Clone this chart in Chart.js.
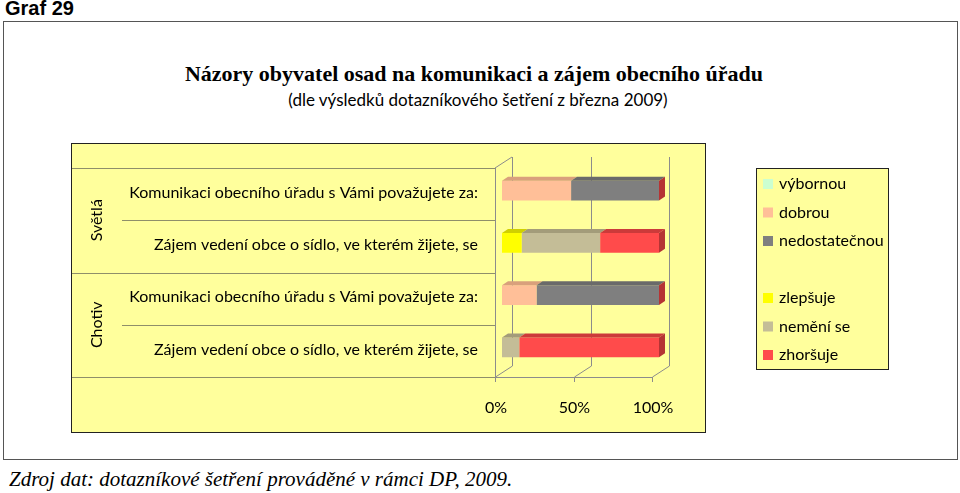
<!DOCTYPE html>
<html>
<head>
<meta charset="utf-8">
<script src="https://cdn.jsdelivr.net/npm/chart.js@4/dist/chart.umd.min.js"></script>
<style>
  body { margin: 0; background: #fff; }
  #wrap { position: relative; width: 960px; height: 493px; overflow: hidden; }
  #graf { position: absolute; left: 5px; top: -3px; font: bold 20px "Liberation Sans", Arial, sans-serif; }
  #frame { position: absolute; left: 3px; top: 21px; width: 953px; height: 437px; border: 1px solid #555; }
  #plot { position: absolute; left: 71px; top: 143px; width: 633px; height: 288px; background: #ffff9c; border: 1px solid #222; }
  #title { position: absolute; left: 0; width: 948px; top: 61px; text-align: center; font: bold 22px "Liberation Serif", serif; }
  #sub { position: absolute; left: 0; width: 956px; top: 89px; text-align: center; font: 17px Lato, sans-serif; }
  #src { position: absolute; left: 9px; top: 467px; font: italic 21px "Liberation Serif", serif; }
  #box { position: absolute; left: 0; top: 0; width: 960px; height: 493px; }
</style>
</head>
<body>
<div id="wrap">
  <div id="graf">Graf 29</div>
  <div id="frame"></div>
  <div id="plot"></div>
  <div id="title">Názory obyvatel osad na komunikaci a zájem obecního úřadu</div>
  <div id="sub">(dle výsledků dotazníkového šetření z března 2009)</div>
  <div id="src">Zdroj dat: dotazníkové šetření prováděné v rámci DP, 2009.</div>
  <div id="box"><canvas id="graf29"></canvas></div>
</div>
<script>
// data (percent of respondents)
const categories = [
  'Komunikaci obecního úřadu s Vámi považujete za:',
  'Zájem vedení obce o sídlo, ve kterém žijete, se',
  'Komunikaci obecního úřadu s Vámi považujete za:',
  'Zájem vedení obce o sídlo, ve kterém žijete, se'
];
const groups = ['Světlá', 'Chotiv'];
const seriesNames = ['výbornou', 'dobrou', 'nedostatečnou', 'zlepšuje', 'nemění se', 'zhoršuje'];
const vybornou      = [0, 0, 0, 0];
const dobrou        = [44, 0, 22, 0];
const nedostatecnou = [56, 0, 78, 0];
const zlepsuje      = [0, 12.5, 0, 0];
const nemeni        = [0, 50, 0, 11];
const zhorsuje      = [0, 37.5, 0, 89];
const xTicks = [0, 50, 100];

const colors    = ['#ccffd0', '#ffbf98', '#7f7f7f', '#ffff00', '#c4bd97', '#ff4b4b'];
const topColors = ['#a8d8ac', '#d9a07c', '#6a6a6a', '#d0d000', '#a39c7a', '#cc3a3a'];
const values = [vybornou, dobrou, nedostatecnou, zlepsuje, nemeni, zhorsuje];

const FONT = 'Lato, sans-serif';
const bar3d = { x: 6, y: -4 };      // depth of a bar
const shift = { x: -7, y: 3.5 };    // from bar plane to front of the box
const wall = { x: 17, y: -11 };     // full depth of the box

const threeD = {
  id: 'threeD',
  beforeDatasetsDraw(chart) {
    const c = chart.ctx, xs = chart.scales.x, a = chart.chartArea;
    const top = a.top + shift.y, bottom = a.bottom + shift.y;
    const xf = v => xs.getPixelForValue(v) + shift.x;
    c.save();
    c.lineWidth = 1;
    c.strokeStyle = '#8c8c8c';
    c.beginPath();
    // left wall
    c.moveTo(xf(0) + 0.5, top); c.lineTo(xf(0) + 0.5, bottom);
    c.moveTo(xf(0), top); c.lineTo(xf(0) + wall.x, top + wall.y);
    // floor front
    c.moveTo(xf(0), bottom + 0.5); c.lineTo(xf(100), bottom + 0.5);
    xTicks.forEach(v => {
      const px = Math.round(xf(v)) + 0.5;
      c.moveTo(px + wall.x, top + wall.y); c.lineTo(px + wall.x, bottom + wall.y);
      c.moveTo(px, bottom); c.lineTo(px + wall.x, bottom + wall.y);
      c.moveTo(px, bottom); c.lineTo(px, bottom + 5);
    });
    c.stroke();
    // category separators and group labels
    const band = (a.bottom - a.top) / categories.length;
    c.strokeStyle = '#8f8f6a';
    c.beginPath();
    for (let i = 0; i <= categories.length; i++) {
      const y = Math.round(top + i * band) + 0.5;
      c.moveTo(i % 2 === 0 ? 72 : 122, y);
      c.lineTo(xf(0), y);
    }
    c.stroke();
    c.fillStyle = '#000';
    c.font = '16px ' + FONT;
    c.textAlign = 'center';
    c.textBaseline = 'middle';
    groups.forEach((g, i) => {
      const cy = top + (i * 2 + 1) * band;
      c.save();
      c.translate(97, cy);
      c.rotate(-Math.PI / 2);
      c.fillText(g, 0, 0);
      c.restore();
    });
    c.restore();
  },
  afterDatasetsDraw(chart) {
    const c = chart.ctx;
    c.save();
    const ends = [];
    chart.data.datasets.forEach((ds, di) => {
      chart.getDatasetMeta(di).data.forEach((el, i) => {
        const t = el.y - el.height / 2;
        if (el.x - el.base > 0.5) {
          c.fillStyle = topColors[di];
          c.beginPath();
          c.moveTo(el.base, t); c.lineTo(el.x, t);
          c.lineTo(el.x + bar3d.x, t + bar3d.y); c.lineTo(el.base + bar3d.x, t + bar3d.y);
          c.closePath(); c.fill();
        }
        if (!ends[i] || el.x >= ends[i].x) ends[i] = { x: el.x, t: t, b: el.y + el.height / 2 };
      });
    });
    c.fillStyle = '#b53434';
    ends.forEach(e => {
      c.beginPath();
      c.moveTo(e.x, e.t); c.lineTo(e.x + bar3d.x, e.t + bar3d.y);
      c.lineTo(e.x + bar3d.x, e.b + bar3d.y); c.lineTo(e.x, e.b);
      c.closePath(); c.fill();
    });
    c.restore();
  },
  afterDraw(chart) {
    // legend with a gap between the two question groups
    const c = chart.ctx, a = chart.chartArea;
    const bx = a.right + 97, by = a.top + 3.5, bw = 132, bh = 201;
    c.save();
    c.fillStyle = '#ffff9c';
    c.fillRect(bx, by, bw, bh);
    c.strokeStyle = '#222';
    c.lineWidth = 1;
    c.strokeRect(bx + 0.5, by + 0.5, bw, bh);
    c.font = '16px ' + FONT;
    c.textBaseline = 'middle';
    c.textAlign = 'left';
    seriesNames.forEach((name, i) => {
      const slot = i < 3 ? i : i + 1;
      const y = by + 16 + slot * 28.5;
      c.fillStyle = colors[i];
      c.fillRect(bx + 7, y - 5, 10, 10);
      c.fillStyle = '#000';
      c.fillText(name, bx + 23, y);
    });
    c.restore();
  }
};

new Chart(document.getElementById('graf29'), {
  type: 'bar',
  data: {
    labels: categories,
    datasets: seriesNames.map((name, i) => ({
      label: name,
      data: values[i],
      backgroundColor: colors[i],
      borderWidth: 0,
      barPercentage: 0.38,
      categoryPercentage: 1
    }))
  },
  options: {
    indexAxis: 'y',
    responsive: true,
    maintainAspectRatio: false,
    animation: false,
    layout: { padding: { left: 0, right: 301, top: 164.5, bottom: 69.5 } },
    plugins: { legend: { display: false }, tooltip: { enabled: false } },
    scales: {
      x: {
        stacked: true, min: 0, max: 100,
        grid: { display: false, drawTicks: false },
        border: { display: false },
        afterFit: s => { s.height = 50; },
        afterBuildTicks: s => { s.ticks = xTicks.map(v => ({ value: v })); },
        ticks: { callback: v => v + '%', labelOffset: -6, padding: 25, color: '#000', font: { family: FONT, size: 16 } }
      },
      y: {
        stacked: true,
        grid: { display: false, drawTicks: false },
        border: { display: false },
        afterFit: s => { s.width = 502; },
        ticks: { padding: 24, labelOffset: 2, color: '#000', font: { family: FONT, size: 16 } }
      }
    }
  },
  plugins: [threeD]
});
</script>
</body>
</html>
